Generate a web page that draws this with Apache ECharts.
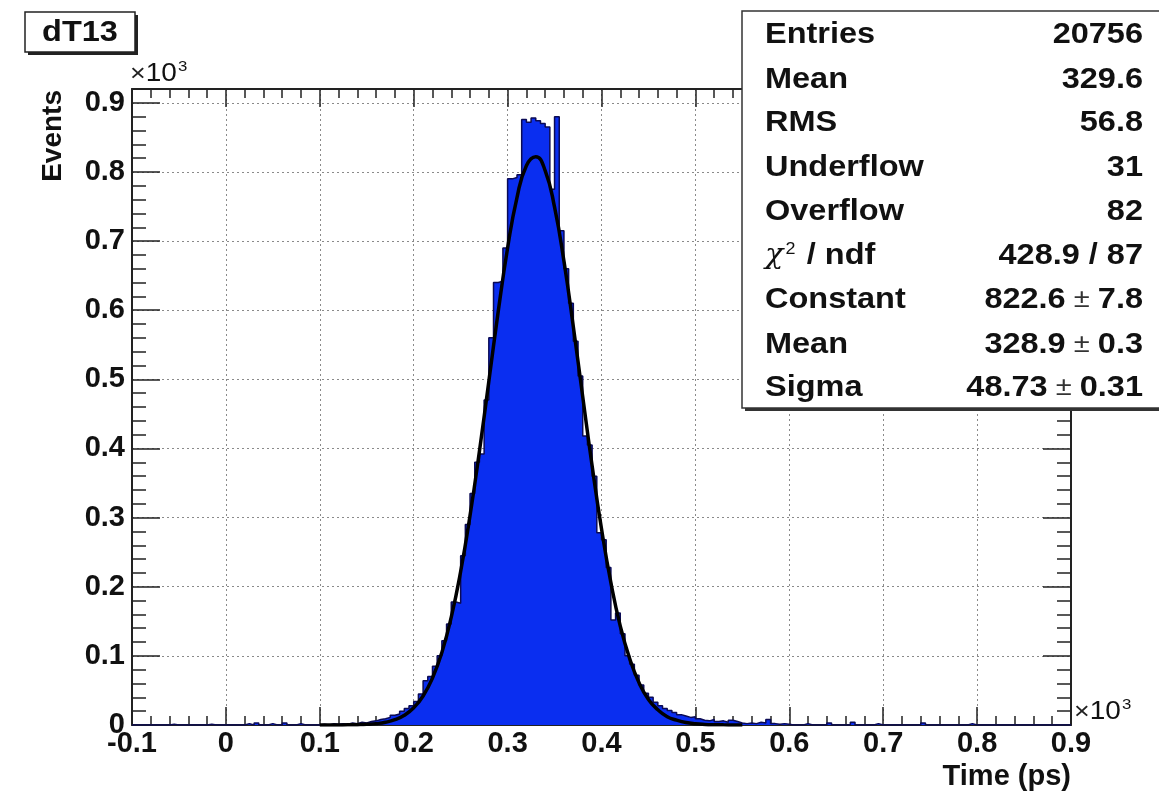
<!DOCTYPE html>
<html>
<head>
<meta charset="utf-8">
<script src="https://cdn.jsdelivr.net/npm/echarts@6/dist/echarts.min.js"></script>
<style>
  html, body { margin: 0; padding: 0; background: #fff; }
  #chart { width: 1159px; height: 795px; }
</style>
</head>
<body>
<div id="chart"></div>
<script>
// histogram dT13, 5 ps bins, counts
const histFirstEdge = 100
const histBinWidth = 5
const counts = [
  1, 0, 2, 1, 2, 1, 3, 2, 4, 3,            // 100-150
  5, 6, 8, 9, 11, 14, 16, 20, 24, 28,      // 150-200
  34, 45, 64, 70, 85, 100, 122, 146, 178, 176,   // 200-250
  245, 290, 335, 380, 392, 470, 560, 640, 642, 690, // 250-300
  790, 792, 796, 876, 872, 878, 874, 870, 865, 775, // 300-350
  880, 715, 660, 610, 555, 505, 418, 405, 360, 278, // 350-400
  268, 228, 152, 162, 132, 100, 88, 72, 58, 46,     // 400-450
  40, 33, 28, 24, 21, 18, 15, 13, 11, 12,           // 450-500
  9, 7, 6, 8, 5, 6, 4, 7, 5, 3,                     // 500-550
  2, 3, 2, 4, 3, 8, 2, 1, 2, 1                      // 550-600
]
// sparse bins outside the main region
const tailEdges = [-60, -20, 20, 30, 45, 60, 75, 615, 640, 665, 690, 740, 790]
const tailCounts = [1, 1, 2, 3, 2, 3, 2, 2, 3, 4, 2, 3, 2]

// gaussian fit curve, read at 10 ps steps
const fitX = [100, 110, 120, 130, 140, 150, 160, 170, 180, 190, 200, 210, 220, 230, 240, 250, 260, 270, 280, 290,
  300, 310, 320, 330, 340, 350, 360, 370, 380, 390, 400, 410, 420, 430, 440, 450, 460, 470, 480, 490,
  500, 510, 520, 530, 540, 550]
const fitY = [0, 0, 0.1, 0.2, 0.5, 1, 2, 4, 7.7, 14, 25, 42, 68, 105, 156, 222, 303, 396, 497, 598,
  690, 763, 809, 822, 802, 749, 671, 576, 475, 375, 284, 206, 143, 96, 61, 37, 22, 12, 7, 3.5,
  1.7, 0.8, 0.4, 0.2, 0.1, 0]

const xTicks = ['-0.1', '0', '0.1', '0.2', '0.3', '0.4', '0.5', '0.6', '0.7', '0.8', '0.9']
const yTicks = ['0', '0.1', '0.2', '0.3', '0.4', '0.5', '0.6', '0.7', '0.8', '0.9']

const statsLabels = ['Entries', 'Mean', 'RMS', 'Underflow', 'Overflow', 'chi', 'Constant', 'Mean', 'Sigma']
const statsValues = ['20756', '329.6', '56.8', '31', '82', '428.9 / 87', ['822.6', '7.8'], ['328.9', '0.3'], ['48.73', '0.31']]

const xMin = -100, xMax = 900, yMax = 920

// full step table
const binsMap = {}
counts.forEach((c, i) => { binsMap[histFirstEdge + i * histBinWidth] = c })
tailEdges.forEach((e, i) => { binsMap[e] = tailCounts[i] })
const stepData = []
for (let e = xMin; e < xMax; e += histBinWidth) stepData.push([e, binsMap[e] || 0])
stepData.push([xMax, 0])

const FONT = 'Liberation Sans, Arial, sans-serif'
const SX = 1.12   // the reference text runs a bit wider than Liberation Sans
const fmtX = v => { const i = Math.round((v - xMin) / 100); return xTicks[i] !== undefined && v % 100 === 0 ? xTicks[i] : '' }
const fmtY = v => { const i = Math.round(v / 100); return v % 100 === 0 && yTicks[i] !== undefined ? yTicks[i] : '' }

const gridLine = { show: true, lineStyle: { color: '#8a8a8a', type: [2, 3], width: 1 } }
const axisLineStyle = { show: true, onZero: false, lineStyle: { color: '#222', width: 2 } }

const chart = echarts.init(document.getElementById('chart'))

// stats box texts
const rowY = [35, 80, 123, 168, 212, 256, 300, 345, 388]
const statTexts = []
statsLabels.forEach((lab, i) => {
  if (lab === 'chi') {
    statTexts.push({ type: 'text', x: 765, y: rowY[i], scaleX: SX, style: {
      text: '{c|χ}{s|2}{b| / ndf}', verticalAlign: 'middle', fill: '#111',
      rich: { c: { fontFamily: 'DejaVu Serif, serif', fontStyle: 'italic', fontSize: 27, fill: '#111' },
              s: { fontFamily: FONT, fontSize: 16, verticalAlign: 'top', padding: [0, 2, 12, 2], fill: '#111' },
              b: { fontFamily: FONT, fontWeight: 'bold', fontSize: 29, fill: '#111' } } } })
  } else {
    statTexts.push({ type: 'text', x: 765, y: rowY[i], scaleX: SX, style: { text: lab, font: 'bold 29px ' + FONT, fill: '#111', verticalAlign: 'middle' } })
  }
  const v = statsValues[i]
  if (Array.isArray(v)) {
    statTexts.push({ type: 'text', x: 1143, y: rowY[i], scaleX: SX, style: {
      text: '{b|' + v[0] + '}{p| ± }{b|' + v[1] + '}', align: 'right', verticalAlign: 'middle',
      rich: { b: { fontFamily: FONT, fontWeight: 'bold', fontSize: 29, fill: '#111' },
              p: { fontFamily: FONT, fontSize: 26, fill: '#333' } } } })
  } else {
    statTexts.push({ type: 'text', x: 1143, y: rowY[i], scaleX: SX, style: { text: v, font: 'bold 29px ' + FONT, fill: '#111', align: 'right', verticalAlign: 'middle' } })
  }
})

chart.setOption({
  animation: false,
  backgroundColor: '#fff',
  grid: { left: 132, right: 88, top: 89, bottom: 70, containLabel: false },
  xAxis: [
    {
      type: 'value', min: xMin, max: xMax, interval: 100, position: 'bottom',
      axisLine: axisLineStyle,
      axisTick: { show: true, inside: true, length: 18, lineStyle: { color: '#222', width: 1.5 } },
      minorTick: { show: true, splitNumber: 5, length: 9, lineStyle: { color: '#222', width: 1.5 } },
      splitLine: gridLine,
      axisLabel: { formatter: fmtX, fontFamily: FONT, fontWeight: 'bold', fontSize: 29, color: '#111', margin: 4 }
    },
    {
      type: 'value', min: xMin, max: xMax, interval: 100, position: 'top',
      axisLine: axisLineStyle,
      axisTick: { show: true, inside: true, length: 18, lineStyle: { color: '#222', width: 1.5 } },
      minorTick: { show: true, splitNumber: 5, length: 9, lineStyle: { color: '#222', width: 1.5 } },
      splitLine: { show: false }, axisLabel: { show: false }
    }
  ],
  yAxis: [
    {
      type: 'value', min: 0, max: yMax, interval: 100, position: 'left',
      axisLine: axisLineStyle,
      axisTick: { show: true, inside: true, length: 28, lineStyle: { color: '#222', width: 1.5 } },
      minorTick: { show: true, splitNumber: 5, length: 14, lineStyle: { color: '#222', width: 1.5 } },
      splitLine: gridLine,
      axisLabel: { formatter: fmtY, showMaxLabel: false, fontFamily: FONT, fontWeight: 'bold', fontSize: 29, color: '#111', margin: 7 }
    },
    {
      type: 'value', min: 0, max: yMax, interval: 100, position: 'right',
      axisLine: axisLineStyle,
      axisTick: { show: true, inside: true, length: 28, lineStyle: { color: '#222', width: 1.5 } },
      minorTick: { show: true, splitNumber: 5, length: 14, lineStyle: { color: '#222', width: 1.5 } },
      splitLine: { show: false }, axisLabel: { show: false }
    }
  ],
  series: [
    {
      name: 'dT13', type: 'line', step: 'end', data: stepData, symbol: 'none',
      xAxisIndex: 0, yAxisIndex: 0,
      lineStyle: { color: '#0b0b55', width: 1.5 },
      areaStyle: { color: '#0a2ef0', opacity: 1 },
      z: 3
    },
    {
      name: 'gaus', type: 'line', smooth: true, symbol: 'none',
      data: fitX.map((x, i) => [x, fitY[i]]),
      lineStyle: { color: '#000', width: 3.5 },
      z: 4
    }
  ],
  graphic: [
    // title box
    { type: 'rect', shape: { x: 28, y: 15, width: 110, height: 40 }, style: { fill: '#222' }, z: 10 },
    { type: 'rect', shape: { x: 25, y: 12, width: 110, height: 40 }, style: { fill: '#fff', stroke: '#222', lineWidth: 1.5 }, z: 11 },
    { type: 'text', x: 80, y: 33, scaleX: SX, style: { text: 'dT13', font: 'bold 29px ' + FONT, fill: '#111', align: 'center', verticalAlign: 'middle' }, z: 12 },
    // axis exponents
    { type: 'text', x: 130, y: 74, scaleX: SX, style: {
      text: '{x|×}{n|10}{s|3}', verticalAlign: 'middle',
      rich: { x: { fontFamily: FONT, fontSize: 24, fill: '#222' }, n: { fontFamily: FONT, fontSize: 25, fill: '#111' },
              s: { fontFamily: FONT, fontSize: 15, verticalAlign: 'top', padding: [0, 0, 14, 1], fill: '#111' } } } },
    { type: 'text', x: 1074, y: 712, scaleX: SX, style: {
      text: '{x|×}{n|10}{s|3}', verticalAlign: 'middle',
      rich: { x: { fontFamily: FONT, fontSize: 24, fill: '#222' }, n: { fontFamily: FONT, fontSize: 25, fill: '#111' },
              s: { fontFamily: FONT, fontSize: 15, verticalAlign: 'top', padding: [0, 0, 14, 1], fill: '#111' } } } },
    // axis titles
    { type: 'text', x: 1071, y: 777, style: { text: 'Time (ps)', font: 'bold 29px ' + FONT, fill: '#111', align: 'right', verticalAlign: 'middle' } },
    { type: 'text', x: 53, y: 90, rotation: Math.PI / 2, style: { text: 'Events', font: 'bold 28px ' + FONT, fill: '#111', align: 'right', verticalAlign: 'middle' } },
    // stats box
    { type: 'rect', shape: { x: 745, y: 14, width: 430, height: 397 }, style: { fill: '#333' }, z: 20 },
    { type: 'rect', shape: { x: 742, y: 11, width: 430, height: 397 }, style: { fill: '#fff', stroke: '#333', lineWidth: 1.5 }, z: 21 },
    { type: 'group', z: 22, children: statTexts.map(t => Object.assign(t, { z: 22 })) }
  ]
})
</script>
</body>
</html>
